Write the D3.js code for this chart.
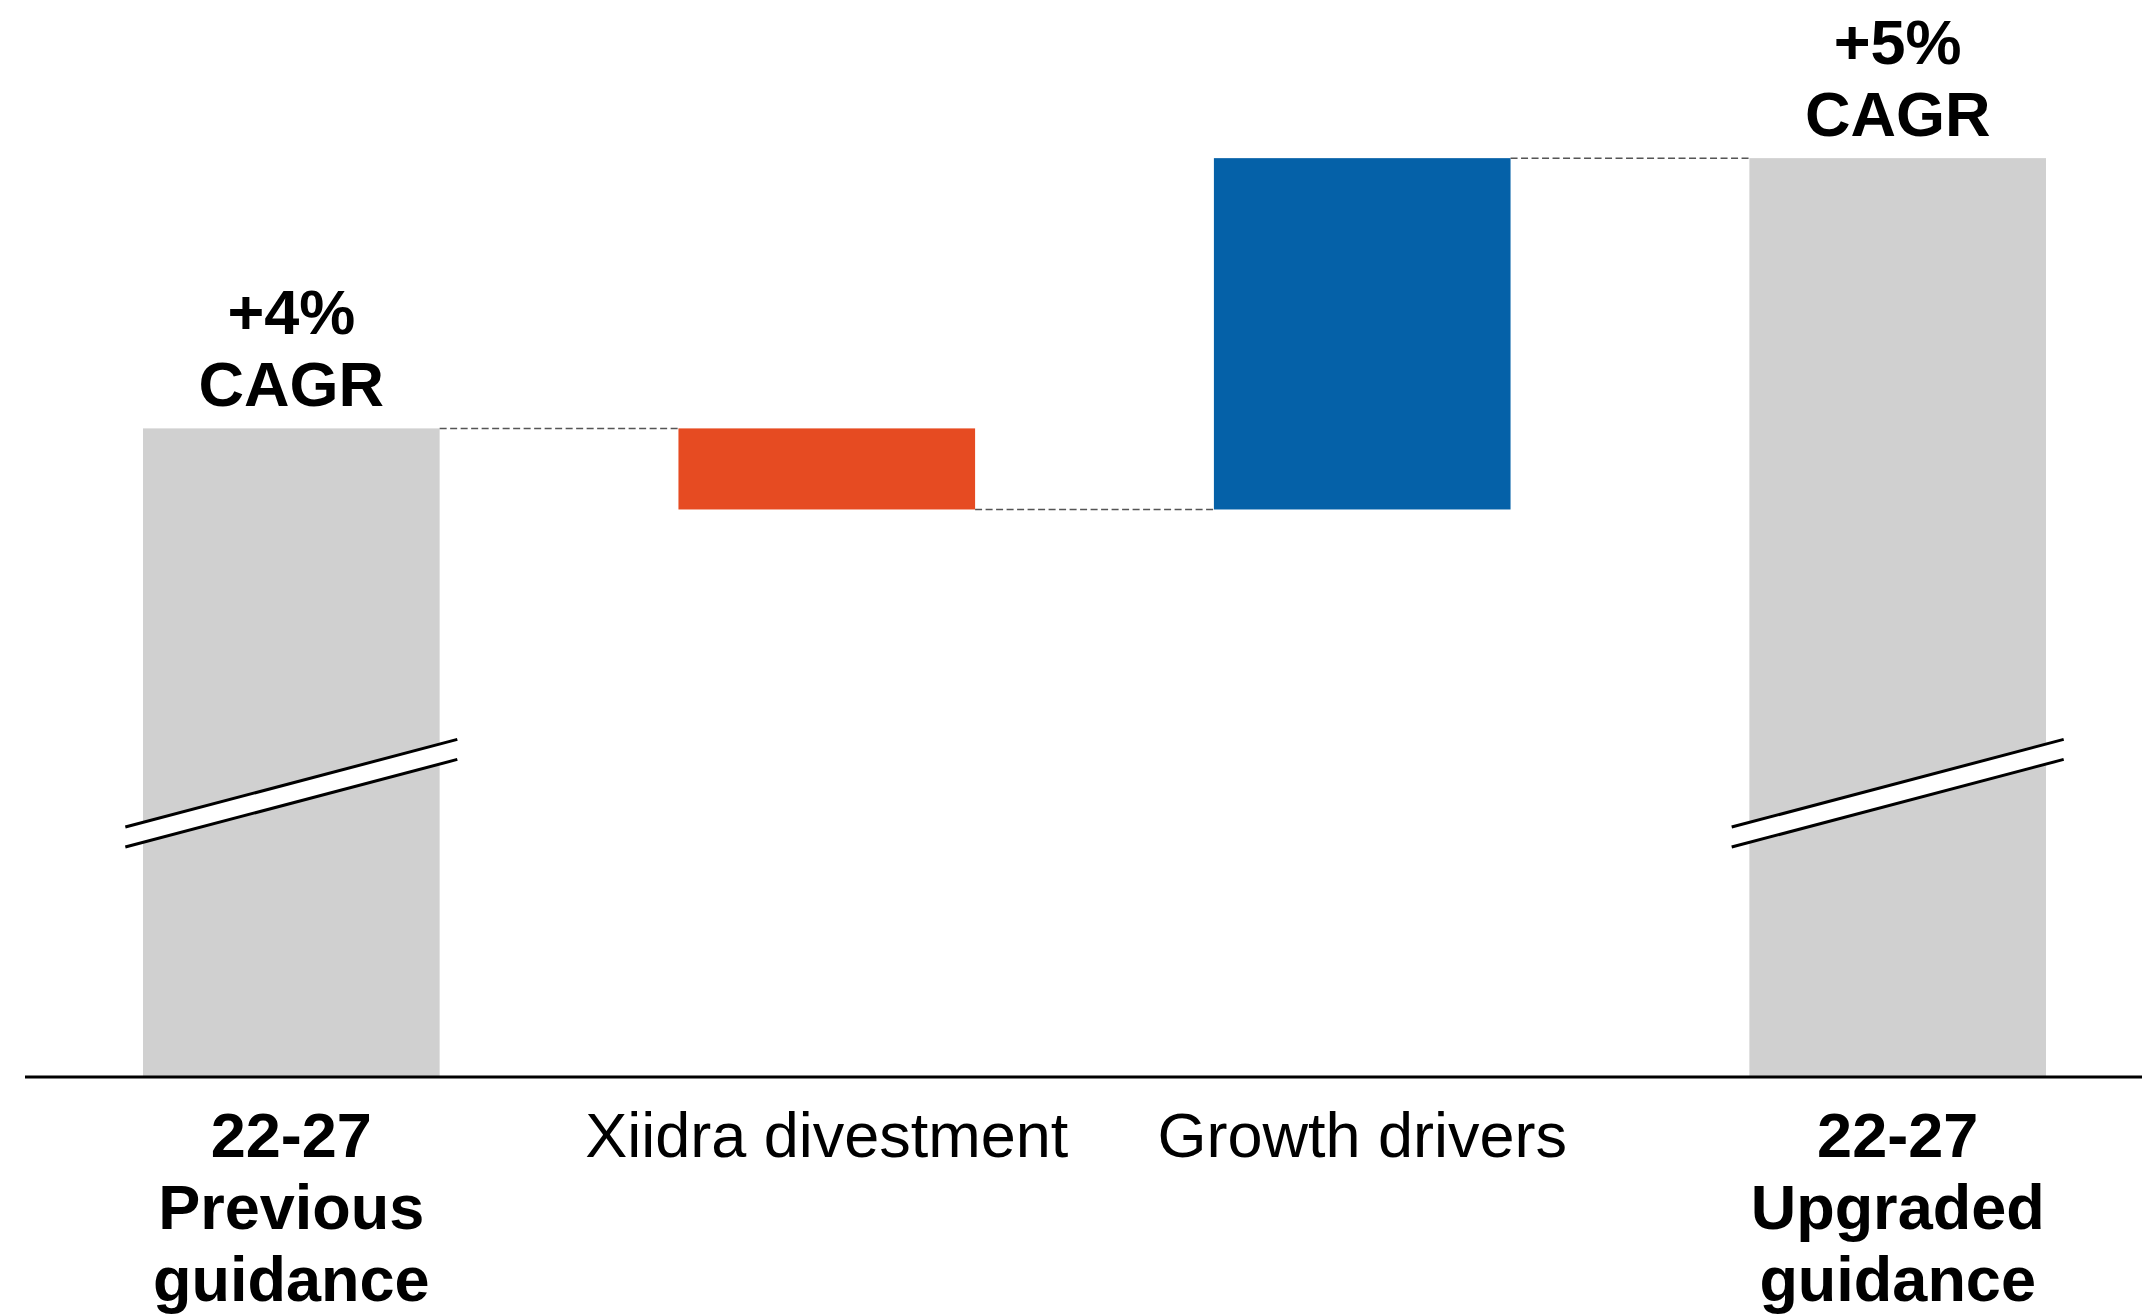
<!DOCTYPE html>
<html>
<head>
<meta charset="utf-8">
<script src="https://cdn.jsdelivr.net/npm/d3@7"></script>
<style>
  body { margin: 0; background: #fff; }
  svg { display: block; }
  text { font-family: "Liberation Sans", Arial, sans-serif; }
</style>
</head>
<body>
<div id="chart"></div>
<script>
document.addEventListener("DOMContentLoaded", function() {
    // categories (one array per line of the axis label)
    const categoryLines = [
        ["22-27", "Previous", "guidance"],
        ["Xiidra divestment"],
        ["Growth drivers"],
        ["22-27", "Upgraded", "guidance"]
    ];
    const categoryBold = [true, false, false, true];
    // CAGR in % points; totals are absolute, the middle bars are changes
    const values = [4, -0.3, 1.3, 5];
    const kinds = ["total", "delta", "delta", "total"];
    const topLabels = [["+4%", "CAGR"], null, null, ["+5%", "CAGR"]];
    const breakValue = 2.65;   // where the axis break is drawn on total bars

    const colors = { total: "#d0d0d0", up: "#0561a8", down: "#e64b22" };

    const width = 2142, height = 1315;
    const baseY = 1077;

    const svg = d3.select("#chart")
        .append("svg")
        .attr("width", width)
        .attr("height", height);

    const x = d3.scaleBand()
        .domain(d3.range(values.length))
        .range([143, 2046])
        .paddingInner(0.446)
        .paddingOuter(0);

    // axis is broken, so the scale starts above zero
    const y = d3.scaleLinear()
        .domain([1.6, 5.6])
        .range([baseY, -4]);

    // build waterfall steps
    let running = 0;
    const bars = values.map((v, i) => {
        let y0, y1;
        if (kinds[i] === "total") {
            y0 = y.domain()[0];
            y1 = v;
            running = v;
        } else {
            y0 = running;
            y1 = running + v;
            running = y1;
        }
        return { i, v, kind: kinds[i], y0, y1 };
    });

    svg.selectAll("rect.bar")
        .data(bars)
        .enter().append("rect")
        .attr("class", "bar")
        .attr("x", d => x(d.i))
        .attr("width", x.bandwidth())
        .attr("y", d => y(Math.max(d.y0, d.y1)))
        .attr("height", d => Math.abs(y(d.y0) - y(d.y1)))
        .attr("fill", d => d.kind === "total" ? colors.total : (d.v < 0 ? colors.down : colors.up));

    // dashed connectors
    for (let i = 0; i < bars.length - 1; i++) {
        const level = bars[i].y1;
        svg.append("line")
            .attr("x1", x(i) + x.bandwidth())
            .attr("x2", x(i + 1))
            .attr("y1", y(level))
            .attr("y2", y(level))
            .attr("stroke", "#555")
            .attr("stroke-width", 1.5)
            .attr("stroke-dasharray", "7,3.5");
    }

    // axis break marks on the total bars
    const halfW = 166, slope = 0.264, gap = 10;
    bars.filter(d => d.kind === "total").forEach(d => {
        const cx = x(d.i) + x.bandwidth() / 2;
        const cy = y(breakValue);
        const xl = cx - halfW, xr = cx + halfW;
        const yl = cy + halfW * slope, yr = cy - halfW * slope;
        svg.append("polygon")
            .attr("points", [[xl, yl - gap], [xr, yr - gap], [xr, yr + gap], [xl, yl + gap]].join(" "))
            .attr("fill", "#fff");
        [-gap, gap].forEach(off => {
            svg.append("line")
                .attr("x1", xl).attr("y1", yl + off)
                .attr("x2", xr).attr("y2", yr + off)
                .attr("stroke", "#000")
                .attr("stroke-width", 3);
        });
    });

    // baseline
    svg.append("line")
        .attr("x1", 25)
        .attr("x2", width)
        .attr("y1", y(y.domain()[0]))
        .attr("y2", y(y.domain()[0]))
        .attr("stroke", "#000")
        .attr("stroke-width", 3);

    const fontSize = 63, lineH = 72;

    // labels above the total bars
    bars.forEach(d => {
        const lines = topLabels[d.i];
        if (!lines) return;
        const t = svg.append("text")
            .attr("text-anchor", "middle")
            .attr("font-size", fontSize)
            .attr("font-weight", "bold")
            .attr("fill", "#000");
        lines.forEach((s, k) => {
            t.append("tspan")
                .attr("x", x(d.i) + x.bandwidth() / 2)
                .attr("y", y(d.y1) - 22 - (lines.length - 1 - k) * lineH)
                .text(s);
        });
    });

    // category labels
    categoryLines.forEach((lines, i) => {
        const t = svg.append("text")
            .attr("text-anchor", "middle")
            .attr("font-size", fontSize)
            .attr("font-weight", categoryBold[i] ? "bold" : "normal")
            .attr("fill", "#000");
        lines.forEach((s, k) => {
            t.append("tspan")
                .attr("x", x(i) + x.bandwidth() / 2)
                .attr("y", 1157 + k * lineH)
                .text(s);
        });
    });
});
</script>
</body>
</html>
